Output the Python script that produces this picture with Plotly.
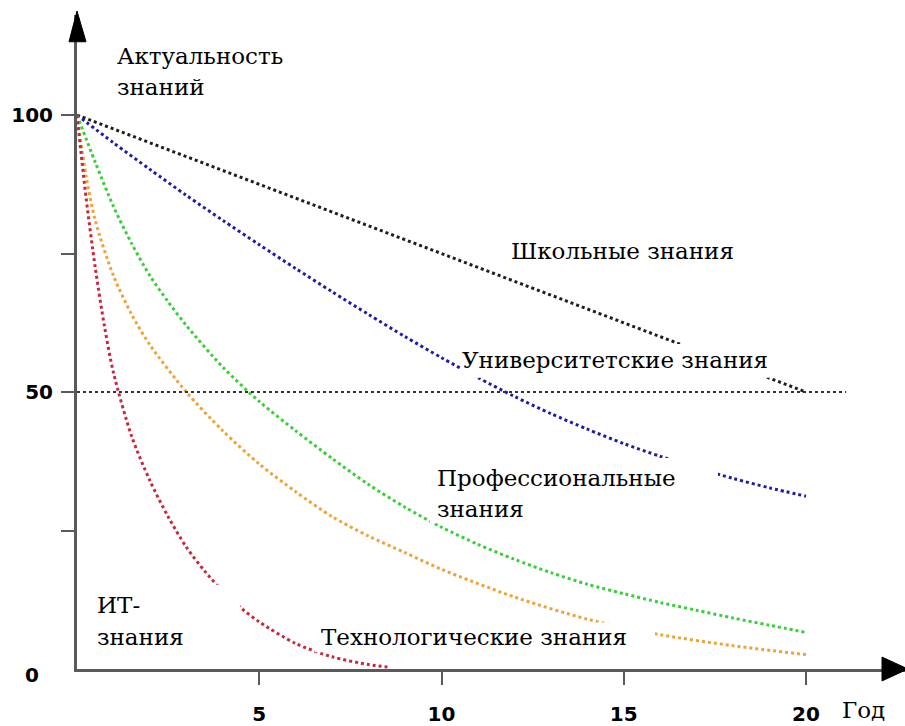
import plotly.graph_objects as go

# ---- data ----
school_x = [0, 20]
school_y = [100, 50]

univ_x = [0, 1, 2, 3, 4, 5, 6, 7, 8, 9, 10, 11, 12, 13, 14, 15, 16, 17, 18, 19, 20]
univ_y = [100, 95, 90.2, 85.5, 81, 76.6, 72.3, 68.1, 64, 60, 56.2, 52.6, 49.2, 46.1, 43.3, 40.7, 38.4, 36.3, 34.4, 32.7, 31.2]

prof_x = [0, 0.5, 1, 1.5, 2, 2.5, 3, 4, 5, 6, 7, 8, 9, 10, 11, 12, 13, 14, 15, 16, 17, 18, 19, 20]
prof_y = [100, 91.5, 83.5, 76.8, 71, 66.3, 62, 54.5, 48.3, 43, 38, 33.3, 29.2, 25.6, 22.5, 19.8, 17.4, 15.3, 13.6, 12, 10.6, 9.2, 7.9, 6.6]

tech_x = [0, 0.25, 0.5, 1, 1.5, 2, 3, 4, 5, 6, 7, 8, 9, 10, 12, 14, 16, 18, 20]
tech_y = [100, 89, 81, 71, 64, 58.5, 50, 43, 37, 32, 27.5, 24, 21, 18, 13, 9, 6.2, 4.2, 2.6]

it_x = [0, 0.25, 0.5, 0.75, 1.0, 1.5, 2.0, 2.5, 3.0, 3.5, 4.0, 4.5, 5.0, 6.0, 7.0, 8.0, 8.6]
it_y = [100, 85, 72.5, 62, 53.5, 42, 34, 27.5, 22, 17.7, 14, 11, 8.5, 4.6, 2.2, 0.8, 0.3]

half_x = [0, 21.1]
half_y = [50, 50]

x_tickvals = [5, 10, 15, 20]
x_ticktext = ["5", "10", "15", "20"]
y_tickvals = [25, 50, 75, 100]
y_ticktext = ["", "50", "", "100"]

# ---- layout geometry ----
W, H = 905, 726
L, R, T, B = 77, 0, 15, 51
PW, PH = W - L - R, H - T - B
XPX = 36.45   # pixels per year
YPX = 5.59    # pixels per unit


def P(px, py):
    return (px - L) / PW, (H - B - py) / PH


fig = go.Figure()

series = [
    (school_x, school_y, "#1e1e1e"),
    (univ_x, univ_y, "#1c1ca8"),
    (prof_x, prof_y, "#38d038"),
    (tech_x, tech_y, "#f0a23a"),
    (it_x, it_y, "#c8283c"),
]
for xs, ys, col in series:
    fig.add_trace(go.Scatter(x=xs, y=ys, mode="lines",
                             line=dict(color=col, width=3, dash="dot", shape="spline", smoothing=0.8),
                             hoverinfo="skip", showlegend=False))

fig.add_trace(go.Scatter(x=half_x, y=half_y, mode="lines",
                         line=dict(color="#333333", width=2, dash="dot"),
                         hoverinfo="skip", showlegend=False))

shapes = []
# white boxes behind labels
for (x0, y0, x1, y1) in [(461, 347, 772, 381), (430, 462, 718, 528), (95, 590, 240, 657), (315, 628, 655, 658)]:
    a0, b0 = P(x0, y1)
    a1, b1 = P(x1, y0)
    shapes.append(dict(type="rect", xref="paper", yref="paper", x0=a0, y0=b0, x1=a1, y1=b1,
                       fillcolor="white", line=dict(width=0), layer="above"))


def tri(points):
    pts = [P(*p) for p in points]
    return "M {} {} L {} {} L {} {} Z".format(pts[0][0], pts[0][1], pts[1][0], pts[1][1], pts[2][0], pts[2][1])


shapes.append(dict(type="path", xref="paper", yref="paper",
                   path=tri([(77, 11), (69, 42), (86, 42)]),
                   fillcolor="black", line=dict(color="black", width=1), layer="above"))
shapes.append(dict(type="path", xref="paper", yref="paper",
                   path=tri([(908, 675), (882, 663), (882, 687)]),
                   fillcolor="black", line=dict(color="black", width=1), layer="above"))

serif = dict(family="DejaVu Serif", size=23, color="black")

annotations = []


def label(text, px, py, xanchor="left", yanchor="middle", font=serif):
    ax, ay = P(px, py)
    annotations.append(dict(text=text, x=ax, y=ay, xref="paper", yref="paper",
                            xanchor=xanchor, yanchor=yanchor, showarrow=False,
                            font=font, align="left"))


label("Актуальность", 115, 56)
label("знаний", 115, 88)
label("Школьные знания", 509, 253)
label("Университетские знания", 460, 363)
label("Профессиональные", 435, 482)
label("знания", 435, 514)
label("ИТ-", 95, 610)
label("знания", 95, 643)
label("Технологические знания", 319, 643)
label("Год", 840, 716)
label("0", 32, 681, xanchor="center",
      font=dict(family="DejaVu Sans", size=20, color="black", weight="bold"))

tickfont = dict(family="DejaVu Sans", size=20, color="black", weight="bold")

fig.update_layout(
    width=W, height=H,
    margin=dict(l=L, r=R, t=T, b=B, pad=0),
    paper_bgcolor="white", plot_bgcolor="white",
    shapes=shapes, annotations=annotations,
    xaxis=dict(range=[0, PW / XPX], showgrid=False, zeroline=False,
               showline=True, linecolor="#5a5a5a", linewidth=3,
               tickmode="array", tickvals=x_tickvals, ticktext=x_ticktext,
               ticks="outside", ticklen=13, tickwidth=2, tickcolor="#5a5a5a",
               tickfont=tickfont, ticklabelstandoff=12),
    yaxis=dict(range=[0, PH / YPX], showgrid=False, zeroline=False,
               showline=True, linecolor="#5a5a5a", linewidth=3,
               tickmode="array", tickvals=y_tickvals, ticktext=y_ticktext,
               ticks="outside", ticklen=13, tickwidth=2, tickcolor="#5a5a5a",
               tickfont=tickfont, ticklabelstandoff=4),
)

fig.write_html("out.html", config={"displayModeBar": False},
               post_script="document.body.style.margin='0';document.body.style.overflow='hidden';")
